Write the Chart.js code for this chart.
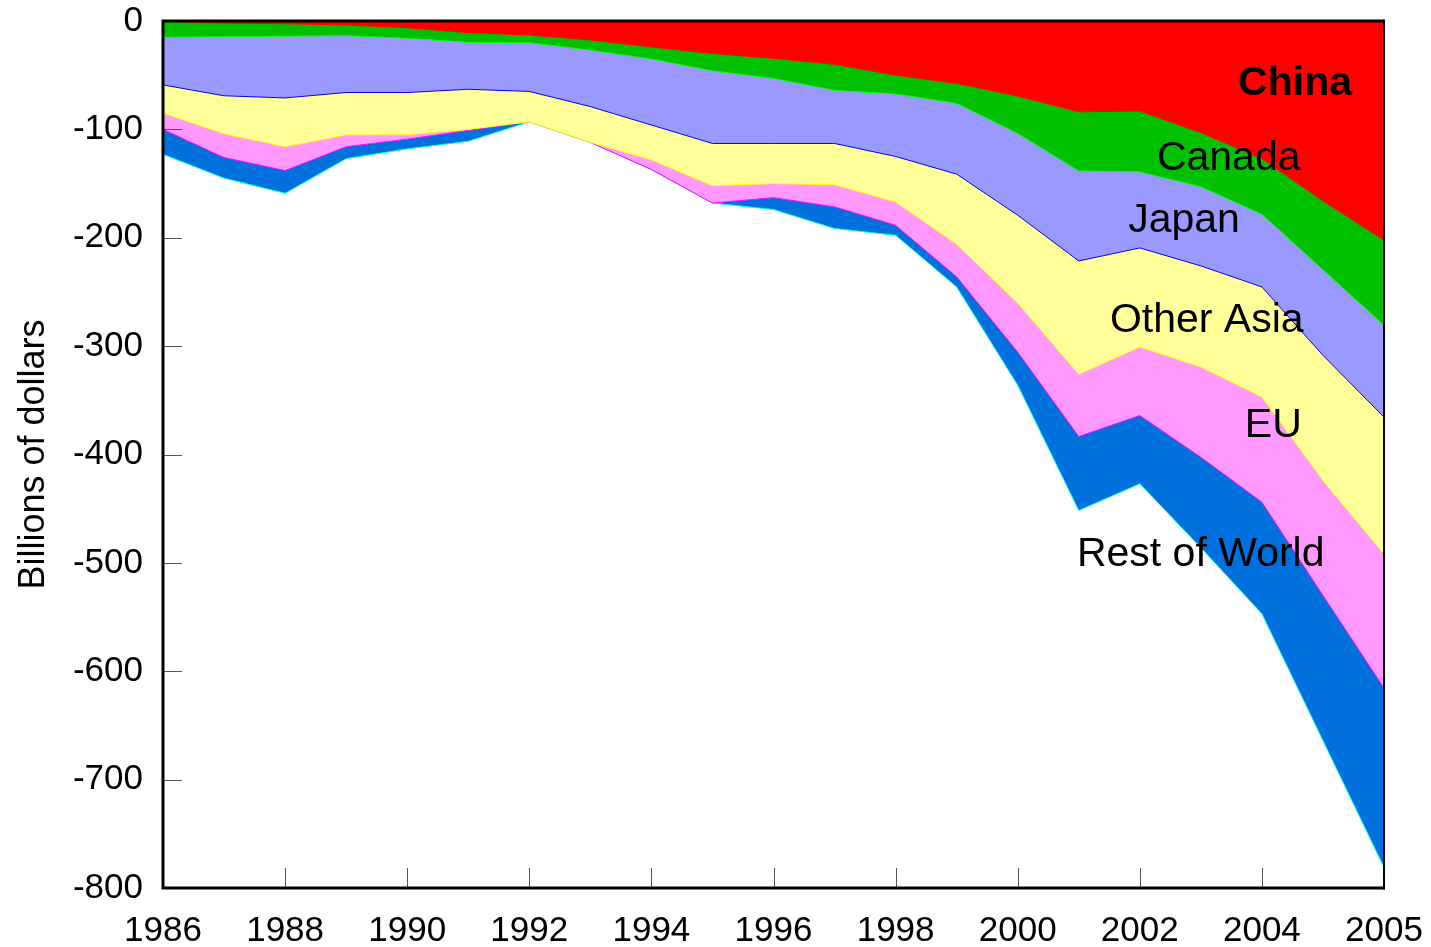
<!DOCTYPE html>
<html>
<head>
<meta charset="utf-8">
<script src="https://cdn.jsdelivr.net/npm/chart.js@4.4.1/dist/chart.umd.min.js"></script>
<style>
html,body{margin:0;padding:0;background:#fff;overflow:hidden;}
#wrap{width:1431px;height:947px;}
</style>
</head>
<body>
<div id="wrap"><canvas id="c" width="1431" height="947"></canvas></div>
<script>
// Category positions along the x axis (as labelled in the source picture)
const categories = ['1986','1987','1988','1989','1990','1991','1992','1993','1994','1995','1996','1997','1998','1999','2000','2001','2002','2003','2004','','2005'];
const tickLabels = ['1986','1988','1990','1992','1994','1996','1998','2000','2002','2004','2005'];
const yTicks = [0,-100,-200,-300,-400,-500,-600,-700,-800];

// Series values (billions of dollars), stacked downward from zero
const china     = [-0.4,-2,-2.5,-3.7,-6.2,-10.8,-12.9,-17.5,-24,-30,-34.5,-40,-50,-57.6,-69.3,-83.8,-83.1,-103,-127,-166,-202.3];
const canada    = [-14.6,-12.5,-11.5,-9.8,-9.8,-8.9,-7.1,-9.5,-11,-16,-18.5,-24,-17.4,-18.4,-34.5,-54.5,-56.1,-50,-51.3,-63.6,-78.5];
const japan     = [-44,-54.5,-57,-52.5,-50,-43.3,-45,-52,-61,-67,-60,-49,-57.6,-65.3,-75.4,-83.1,-70.2,-73,-67.1,-78.9,-84.7];
const otherAsia = [-26,-35,-45,-39,-39,-37,-28,-33,-32,-39,-37,-38,-42,-64.7,-81,-104.6,-91.4,-93.3,-101.6,-115.5,-126.5];
const eu        = [-15,-22,-22,-11,-4,-1,0,0,-9,-16,-13,-20.5,-21.5,-30,-45.3,-57.4,-63.2,-83.2,-97,-106,-123.5];
const restWorld = [-23,-19,-21,-11,-9,-10,0,0,0,0,-11,-20,-9.2,-9.4,-30.5,-68.3,-63,-83.5,-103,-134,-165.5];

const seriesNames = ['China','Canada','Japan','Other Asia','EU','Rest of World'];

const FONT = "'Liberation Sans', Arial, Helvetica, sans-serif";

// Area labels anchored in data coordinates (category index, value)
const areaLabels = [
  {text:'China', x:17.61, y:-68.4, bold:true},
  {text:'Canada', x:16.28, y:-137.6},
  {text:'Japan', x:15.81, y:-194.9},
  {text:'Other Asia', x:15.51, y:-287.3},
  {text:'EU', x:17.72, y:-384.3},
  {text:'Rest of World', x:14.97, y:-502.5}
];

const framePlugin = {
  id:'frame',
  afterDatasetsDraw(chart){
    const ctx = chart.ctx, a = chart.chartArea;
    const xs = chart.scales.x, ys = chart.scales.y;
    ctx.save();
    // inward tick marks
    ctx.strokeStyle = '#555';
    ctx.lineWidth = 1;
    ctx.beginPath();
    categories.forEach((c,i)=>{
      if (tickLabels.includes(c) && c !== '') {
        const px = Math.round(xs.getPixelForValue(i)) + 0.5;
        ctx.moveTo(px, a.bottom);
        ctx.lineTo(px, a.bottom - 20);
      }
    });
    yTicks.forEach(v=>{
      const py = Math.round(ys.getPixelForValue(v)) + 0.5;
      ctx.moveTo(a.left, py);
      ctx.lineTo(a.left + 19, py);
    });
    ctx.stroke();
    // frame
    ctx.strokeStyle = '#000';
    ctx.lineWidth = 3;
    ctx.beginPath();
    ctx.moveTo(a.left, a.top); ctx.lineTo(a.right, a.top);
    ctx.moveTo(a.left, a.top - 1.5); ctx.lineTo(a.left, a.bottom + 1.5);
    ctx.moveTo(a.left - 1.5, a.bottom); ctx.lineTo(a.right + 1, a.bottom);
    ctx.stroke();
    ctx.lineWidth = 2;
    ctx.beginPath();
    ctx.moveTo(a.right, a.top - 1.5); ctx.lineTo(a.right, a.bottom + 1.5);
    ctx.stroke();
    // area labels
    ctx.fillStyle = '#000';
    ctx.textAlign = 'left';
    ctx.textBaseline = 'alphabetic';
    areaLabels.forEach(l=>{
      ctx.font = (l.bold ? 'bold ' : '') + '41px ' + FONT;
      ctx.fillText(l.text, xs.getPixelForValue(l.x), ys.getPixelForValue(l.y));
    });
    ctx.restore();
  }
};

const fills = ['#FF0000','#00C000','#9999FF','#FFFF99','#FF99FF','#0070DD'];
const lines = ['#FF0000','#00FF00','#0000FF','#FFFF00','#FF00FF','#00FFFF'];
const values = [china, canada, japan, otherAsia, eu, restWorld];

const datasets = values.map((v,i)=>({
  label: seriesNames[i],
  data: v,
  backgroundColor: fills[i],
  borderColor: lines[i],
  borderWidth: 1,
  pointRadius: 0,
  tension: 0,
  fill: i === 0 ? 'origin' : '-1'
}));

new Chart(document.getElementById('c'), {
  type: 'line',
  data: { labels: categories, datasets },
  options: {
    responsive: false,
    animation: false,
    devicePixelRatio: 1,
    layout: { padding: { top: 21, right: 47, left: 0, bottom: 0 } },
    plugins: { legend: { display: false }, tooltip: { enabled: false } },
    scales: {
      x: {
        type: 'category',
        offset: false,
        grid: { display: false, drawTicks: false },
        border: { display: false },
        ticks: {
          autoSkip: false, maxRotation: 0, minRotation: 0,
          padding: 22,
          color: '#000',
          font: { family: FONT, size: 35 },
          callback(val, idx){ const c = categories[idx]; return (c !== '' && tickLabels.includes(c)) ? c : null; }
        },
        afterFit(s){ s.height = 59; s.paddingLeft = 0; s.paddingRight = 0; }
      },
      y: {
        stacked: true,
        min: -800, max: 0,
        grid: { display: false, drawTicks: false },
        border: { display: false },
        afterBuildTicks(s){ s.ticks = yTicks.map(v=>({value:v})); },
        ticks: {
          padding: 20,
          color: '#000',
          font: { family: FONT, size: 35 }
        },
        title: {
          display: true,
          text: 'Billions of dollars',
          color: '#000',
          font: { family: FONT, size: 36 },
          padding: { top: 12, bottom: 0 }
        },
        afterFit(s){ s.width = 163; s.paddingTop = 0; s.paddingBottom = 0; }
      }
    }
  },
  plugins: [framePlugin]
});
</script>
</body>
</html>
